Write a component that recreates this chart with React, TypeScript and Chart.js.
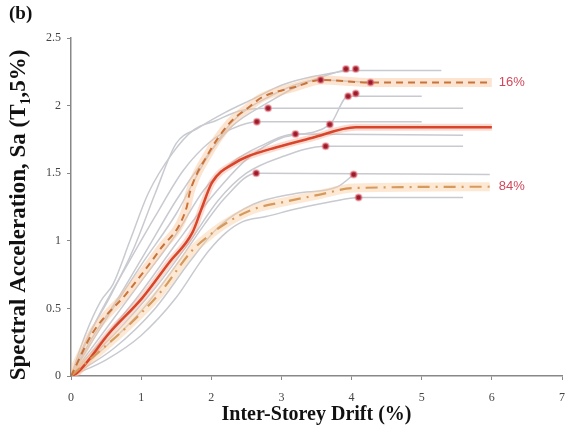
import React, { useEffect, useRef } from "react";
import { Chart, registerables } from "chart.js";
Chart.register(...registerables);

// ---- Data ----
const xTickValues = [0, 1, 2, 3, 4, 5, 6, 7];
const yTickValues = [0, 0.5, 1, 1.5, 2, 2.5];

const rec1Drift = [0, 0.25, 0.55, 0.9, 1.2, 1.5, 1.8, 2.2, 2.6, 3.0, 3.5, 4.06, 5.28];
const rec1Sa = [0, 0.3, 0.58, 0.95, 1.35, 1.72, 1.83, 1.95, 2.05, 2.15, 2.22, 2.26, 2.26];
const rec2Drift = [0, 0.3, 0.7, 1.1, 1.5, 1.9, 2.3, 2.8, 3.3, 3.92];
const rec2Sa = [0, 0.28, 0.6, 0.95, 1.3, 1.6, 1.85, 2.02, 2.16, 2.27];
const rec3Drift = [0, 0.5, 1.0, 1.5, 1.9, 2.3, 2.8, 3.56, 4.27];
const rec3Sa = [0, 0.42, 0.82, 1.2, 1.58, 1.88, 2.06, 2.19, 2.17];
const rec4Drift = [0, 0.5, 1.0, 1.5, 2.0, 2.5, 3.0, 3.69, 3.95, 5.0];
const rec4Sa = [0, 0.3, 0.62, 0.98, 1.32, 1.6, 1.76, 1.86, 2.07, 2.07];
const rec5Drift = [0, 0.2, 0.42, 0.6, 0.84, 1.1, 1.45, 1.75, 2.07, 2.4, 2.81, 5.59];
const rec5Sa = [0, 0.3, 0.55, 0.68, 1.0, 1.35, 1.65, 1.82, 1.89, 1.96, 1.98, 1.98];
const rec6Drift = [0, 0.4, 0.8, 1.2, 1.6, 2.0, 2.3, 2.65, 5.0];
const rec6Sa = [0, 0.45, 0.82, 1.18, 1.52, 1.74, 1.83, 1.88, 1.88];
const rec7Drift = [0, 0.5, 1.0, 1.5, 1.9, 2.3, 2.7, 3.2, 5.59];
const rec7Sa = [0, 0.35, 0.7, 1.05, 1.38, 1.58, 1.7, 1.79, 1.78];
const rec8Drift = [0, 0.6, 1.2, 1.7, 2.1, 2.5, 3.0, 3.63, 5.59];
const rec8Sa = [0, 0.3, 0.65, 1.0, 1.3, 1.5, 1.62, 1.7, 1.7];
const rec9Drift = [0, 0.5, 1.0, 1.5, 1.9, 2.2, 2.64, 5.97];
const rec9Sa = [0, 0.22, 0.48, 0.82, 1.12, 1.32, 1.5, 1.49];
const rec10Drift = [0, 0.6, 1.2, 1.7, 2.1, 2.6, 3.2, 3.8, 4.03];
const rec10Sa = [0, 0.2, 0.5, 0.85, 1.1, 1.27, 1.35, 1.4, 1.49];
const rec11Drift = [0, 0.5, 1.0, 1.5, 1.84, 1.97, 2.21, 2.44, 2.78, 3.25, 3.72, 4.1, 5.59];
const rec11Sa = [0, 0.12, 0.3, 0.58, 0.84, 0.93, 1.06, 1.14, 1.18, 1.24, 1.29, 1.32, 1.32];

const medianDrift = [0, 0.085, 0.55, 1.02, 1.4, 1.73, 1.87, 2.01, 2.35, 2.5, 2.92, 3.43, 4.06, 6.0];
const medianSa = [0, 0.022, 0.32, 0.58, 0.84, 1.06, 1.25, 1.43, 1.58, 1.62, 1.69, 1.76, 1.84, 1.84];
const p16Drift = [0, 0.31, 0.79, 1.26, 1.65, 1.69, 1.93, 2.26, 2.54, 2.72, 3.21, 3.57, 4.27, 6.0];
const p16Sa = [0, 0.32, 0.61, 0.93, 1.25, 1.35, 1.62, 1.87, 1.99, 2.06, 2.14, 2.19, 2.17, 2.17];
const p84Drift = [0, 0.31, 0.79, 1.26, 1.73, 1.97, 2.21, 2.58, 3.06, 3.53, 4.03, 5.97];
const p84Sa = [0, 0.14, 0.36, 0.61, 0.93, 1.04, 1.13, 1.23, 1.29, 1.34, 1.39, 1.4];

const dotDrift = [3.56, 3.92, 4.06, 4.27, 3.95, 4.06, 2.81, 2.65, 3.2, 3.69, 3.63, 2.64, 4.03, 4.1];
const dotSa = [2.19, 2.27, 2.27, 2.17, 2.07, 2.09, 1.98, 1.88, 1.79, 1.86, 1.7, 1.5, 1.49, 1.32];

const percentileLabels = ["16%", "84%"];
const percentileLabelX = [6.1, 6.1];
const percentileLabelY = [2.17, 1.4];

const yAxisTitle = "Spectral Acceleration, Sa (T₁,5%)";
const xAxisTitle = "Inter-Storey Drift (%)";

const records = [
  [rec1Drift, rec1Sa], [rec2Drift, rec2Sa], [rec3Drift, rec3Sa], [rec4Drift, rec4Sa],
  [rec5Drift, rec5Sa], [rec6Drift, rec6Sa], [rec7Drift, rec7Sa], [rec8Drift, rec8Sa],
  [rec9Drift, rec9Sa], [rec10Drift, rec10Sa], [rec11Drift, rec11Sa],
];

const pts = (xs: number[], ys: number[]) => xs.map((x, i) => ({ x, y: ys[i] }));

const labelPlugin = {
  id: "pctLabels",
  afterDatasetsDraw(chart: any) {
    const { ctx, scales } = chart;
    ctx.save();
    ctx.fillStyle = "#d0485a";
    ctx.font = "13px 'Liberation Sans'";
    ctx.textBaseline = "middle";
    ctx.textAlign = "left";
    percentileLabels.forEach((t, i) => {
      ctx.fillText(t, scales.x.getPixelForValue(percentileLabelX[i]), scales.y.getPixelForValue(percentileLabelY[i]));
    });
    // rotated y-axis title
    ctx.fillStyle = "#111";
    ctx.font = "bold 23px 'Liberation Serif'";
    ctx.textAlign = "center";
    ctx.translate(19, 215);
    ctx.rotate(-Math.PI / 2);
    ctx.fillText(yAxisTitle, 0, 0);
    ctx.restore();
  },
};

export default function App() {
  const ref = useRef<HTMLCanvasElement>(null);
  useEffect(() => {
    if (!ref.current) return;
    const line = (data: any, color: string, width: number, order: number, dash?: number[]) => ({
      data,
      showLine: true,
      borderColor: color,
      borderWidth: width,
      borderDash: dash || [],
      pointRadius: 0,
      fill: false,
      cubicInterpolationMode: "monotone",
      order,
    });
    const datasets: any[] = [];
    records.forEach(([d, s]) => datasets.push(line(pts(d, s), "#c8cad0", 1.5, 5)));
    datasets.push(line(pts(p16Drift, p16Sa), "rgba(250,196,150,0.45)", 9, 4));
    datasets.push(line(pts(p84Drift, p84Sa), "rgba(250,205,160,0.45)", 9, 4));
    datasets.push(line(pts(medianDrift, medianSa), "rgba(245,150,120,0.35)", 7, 4));
    datasets.push(line(pts(p16Drift, p16Sa), "#c8733a", 2, 2, [7, 5]));
    datasets.push(line(pts(p84Drift, p84Sa), "#d59a5e", 2.2, 2, [12, 6, 2, 6]));
    datasets.push(line(pts(medianDrift, medianSa), "#d8452a", 2.5, 2));
    datasets.push({
      data: pts(dotDrift, dotSa),
      showLine: false,
      pointRadius: 3,
      pointBackgroundColor: "#9b1b2a",
      pointBorderColor: "rgba(230,120,130,0.55)",
      pointBorderWidth: 2,
      order: 0,
    });

    const tickFont = { family: "'Liberation Serif'", size: 12 };
    const chart = new Chart(ref.current, {
      type: "scatter",
      data: { datasets },
      plugins: [labelPlugin],
      options: {
        animation: false,
        responsive: false,
        layout: { padding: { left: 0, right: 1, top: 38, bottom: 0 } },
        plugins: { legend: { display: false }, tooltip: { enabled: false } },
        scales: {
          x: {
            type: "linear",
            min: 0,
            max: 7,
            afterBuildTicks: (s: any) => { s.ticks = xTickValues.map((v) => ({ value: v })); },
            afterFit: (s: any) => { s.height = 61; s.paddingLeft = 0; s.paddingRight = 0; },
            grid: { drawOnChartArea: false, tickLength: 4, color: "#888" },
            border: { color: "#888", width: 1.5 },
            ticks: { font: tickFont, color: "#444", padding: 11, maxRotation: 0, callback: (v: any) => String(v) },
            title: {
              display: true,
              text: xAxisTitle,
              font: { family: "'Liberation Serif'", size: 20, weight: "bold" },
              color: "#111",
              padding: { top: 0, bottom: 10 },
            },
          },
          y: {
            type: "linear",
            min: 0,
            max: 2.5,
            afterBuildTicks: (s: any) => { s.ticks = yTickValues.map((v) => ({ value: v })); },
            afterFit: (s: any) => { s.width = 71; s.paddingTop = 0; s.paddingBottom = 0; },
            grid: { drawOnChartArea: false, tickLength: 4, color: "#888" },
            border: { color: "#888", width: 1.5 },
            ticks: { font: tickFont, color: "#444", padding: 6, callback: (v: any) => String(v) },
            title: { display: false },
          },
        },
      } as any,
    });
    return () => chart.destroy();
  }, []);

  return (
    <div style={{ position: "fixed", left: 0, top: 0, width: 568, height: 437, background: "#fff" }}>
      <canvas ref={ref} width={568} height={437} style={{ width: 568, height: 437, display: "block" }} />
      <div
        style={{
          position: "absolute",
          left: 9,
          top: 2,
          fontFamily: "'Liberation Serif'",
          fontWeight: "bold",
          fontSize: 19,
          color: "#111",
        }}
      >
        (b)
      </div>
    </div>
  );
}
